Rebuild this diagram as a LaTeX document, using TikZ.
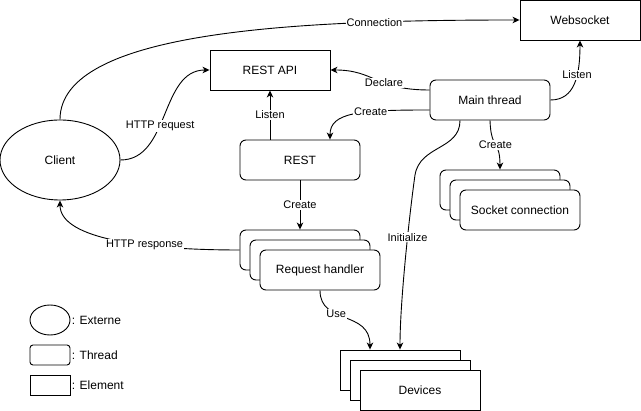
\documentclass[tikz,border=0pt]{standalone}
\usepackage{fontspec}
\setmainfont{Liberation Sans}
\usetikzlibrary{arrows.meta,shapes.geometric}
\begin{document}
\begin{tikzpicture}[x=1pt,y=-1pt,line width=0.9pt,
  every node/.style={font=\fontsize{12}{14}\selectfont},
  element/.style={draw,fill=white,minimum width=120pt,minimum height=40pt,inner sep=0pt},
  thread/.style={element,rounded corners=6pt},
  externe/.style={draw,ellipse,minimum width=120pt,minimum height=80pt,inner sep=0pt},
  lbl/.style={fill=white,inner sep=1pt,font=\fontsize{11}{13}\selectfont},
  arr/.style={-{Stealth[length=7pt,width=6.5pt,inset=2pt]}},
  legtxt/.style={anchor=west,inner sep=1pt}]
\useasboundingbox (0,0) rectangle (641,411);
% main nodes
\node[element] (ws) at (580,20) {Websocket};
\node[element] (api) at (270,70) {REST API};
\node[thread] (main) at (490,100) {Main thread};
\node[thread] (rest) at (300,160) {REST};
\node[externe] (client) at (60,160) {Client};
\node[thread] (sc1) at (500,190) {};
\node[thread] (sc2) at (510,200) {};
\node[thread] (sc3) at (520,210) {Socket connection};
\node[thread] (rh1) at (300,250) {};
\node[thread] (rh2) at (310,260) {};
\node[thread] (rh3) at (320,270) {Request handler};
\node[element] (dv1) at (400,370) {};
\node[element] (dv2) at (410,380) {};
\node[element] (dv3) at (420,390) {Devices};
% legend
\node[draw,ellipse,minimum width=40pt,minimum height=30pt,inner sep=0pt] (lgE) at (50,320) {};
\node[legtxt] (lgEt) at (lgE.east) {: Externe};
\node[draw,rounded corners=3pt,minimum width=40pt,minimum height=20pt,inner sep=0pt] (lgT) at (50,355) {};
\node[legtxt] (lgTt) at (lgT.east) {: Thread};
\node[draw,minimum width=40pt,minimum height=20pt,inner sep=0pt] (lgL) at (50,385) {};
\node[legtxt] (lgLt) at (lgL.east) {: Element};
% connectors
\draw[arr] (client.north) .. controls (60,30) and (300,20) .. (ws.west) node[lbl,pos=0.78] {Connection};
\draw[arr] (client.east) .. controls (170,160) and (160,70) .. (api.west) node[lbl,pos=0.42] {HTTP request};
\draw[arr] ([yshift=10pt]main.west) .. controls (375,90) and (375,70) .. (api.east) node[lbl,pos=0.4] {Declare};
\draw[arr] ([yshift=-10pt]main.west) .. controls (360,110) and (330,112) .. ([xshift=30pt]rest.north) node[lbl,pos=0.35] {Create};
\draw[arr] ([xshift=-30pt]rest.north) -- (api.south) node[lbl,midway] {Listen};
\draw[arr] (rest.south) -- (rh1.north) node[lbl,midway] {Create};
\draw[arr] (rh1.west) .. controls (150,250) and (60,240) .. (client.south) node[lbl,pos=0.37] {HTTP response};
\draw[arr] (rh3.south) .. controls (320,325) and (370,310) .. ([xshift=-30pt]dv1.north) node[lbl,pos=0.38] {Use};
\draw[arr] ([xshift=-30pt]main.south) .. controls (460,150) and (420,145) .. (415,175) .. controls (410,210) and (400,300) .. (dv1.north) node[lbl,pos=0.4] {Initialize};
\draw[arr] (main.east) .. controls (575,100) and (580,75) .. (ws.south) node[lbl,pos=0.62] {Listen};
\draw[arr] (main.south) .. controls (491,150) and (500,140) .. (sc1.north) node[lbl,pos=0.5] {Create};
\end{tikzpicture}
\end{document}
